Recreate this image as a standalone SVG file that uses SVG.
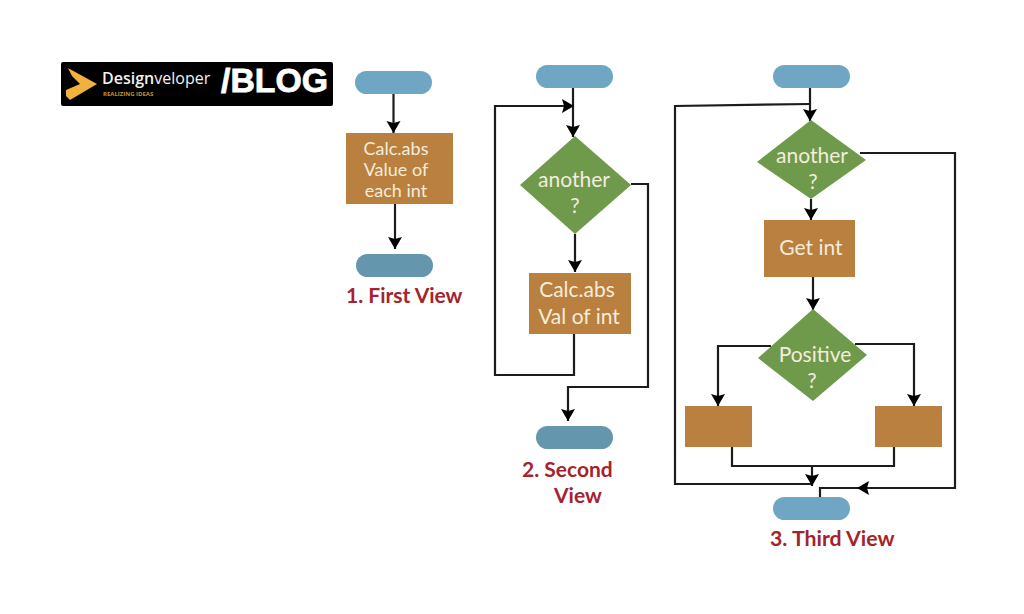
<svg xmlns="http://www.w3.org/2000/svg" width="1024" height="614" viewBox="0 0 1024 614">
<style>
.term{fill:#6fa6c4}
.termd{fill:#6497ae}
.box{fill:#b9803f}
.dec{fill:#6f9a4c}
.t{font-family:Lato,"Open Sans",sans-serif;fill:#f4ecdc;text-anchor:middle}
.lab{font-family:Lato,"Open Sans",sans-serif;font-weight:700;fill:#a4232c}
.c{fill:none;stroke:#1c1c1c;stroke-width:2.200}
.a{marker-end:url(#ah)}
</style>
<defs>
<marker id="ah" markerUnits="userSpaceOnUse" markerWidth="14" markerHeight="16" refX="12" refY="7.500" orient="auto">
<path d="M0,0.500 L12,7.500 L0,14.500 L2,7.500 Z" fill="#000"/>
</marker>
</defs>
<rect width="1024" height="614" fill="#fff"/>
<g id="logo">
<rect x="61" y="62" width="272" height="44" rx="2" fill="#000"/>
<path d="M68,68 L97,84 L70,100 L66,96 L66,90 L80,84 L72,76 Z" fill="#f0b23c"/>
<text x="102" y="84" font-family="'Open Sans',sans-serif" font-size="16" font-weight="600" fill="#f2f2f2">Design<tspan font-weight="400">veloper</tspan></text>
<text x="103" y="96" font-family="'Open Sans',sans-serif" font-size="6" font-weight="700" fill="#c8932e">REALIZING IDEAS</text>
<text x="221" y="92" font-family="'Liberation Sans',sans-serif" font-size="33" font-weight="700" fill="#fff" stroke="#fff" stroke-width="0.800" textLength="107" lengthAdjust="spacingAndGlyphs">/BLOG</text>
</g>
<g id="connectors">
<path class="c a" d="M393.500,94V133"/>
<path class="c a" d="M395,204V249"/>
<path class="c a" d="M573,88V137"/>
<path class="c a" d="M574,334V375H495V106H574"/>
<path class="c a" d="M575,234V272"/>
<path class="c a" d="M631,184H648V387H568V421"/>
<path class="c a" d="M810,88V121"/>
<path class="c" d="M810,104L675,106V484H812"/>
<path class="c a" d="M811,199V220"/>
<path class="c a" d="M813,277V310"/>
<path class="c" d="M860,153H955V488H820V497"/>
<path class="c a" d="M955,488H857"/>
<path class="c a" d="M771,346H718V406"/>
<path class="c a" d="M855,344H914V406"/>
<path class="c" d="M732,447V466H894V447"/>
<path class="c a" d="M812,466V486"/>
</g>
<g id="v1-start"><rect class="term" x="355" y="71" width="77" height="23" rx="11.500"/></g>
<g id="v1-calc"><rect class="box" x="346" y="133" width="107" height="71"/>
<text class="t" font-size="18" x="396" y="155">Calc.abs</text>
<text class="t" font-size="18" x="396" y="176">Value of</text>
<text class="t" font-size="18" x="396" y="197">each int</text></g>
<g id="v1-end"><rect class="termd" x="356" y="254" width="77" height="23" rx="11.500"/></g>
<text id="label-1" class="lab" font-size="21" x="346" y="303">1. First View</text>
<g id="v2-start"><rect class="term" x="536" y="65" width="77" height="23" rx="11.500"/></g>
<g id="v2-another"><polygon class="dec" points="520,185 575,136 631,185 575,234"/>
<text class="t" font-size="21" x="574" y="187">another</text>
<text class="t" font-size="21" x="575" y="213">?</text></g>
<g id="v2-calc"><rect class="box" x="529" y="273" width="102" height="61"/>
<text class="t" font-size="21" x="577" y="297">Calc.abs</text>
<text class="t" font-size="21" x="579" y="324">Val of int</text></g>
<g id="v2-end"><rect class="termd" x="536" y="426" width="77" height="23" rx="11.500"/></g>
<text id="label-2a" class="lab" font-size="21" x="522" y="477">2. Second</text>
<text id="label-2b" class="lab" font-size="21" x="554" y="503">View</text>
<g id="v3-start"><rect class="term" x="773" y="65" width="77" height="23" rx="11.500"/></g>
<g id="v3-another"><polygon class="dec" points="757,162 811,120 866,160 811,199"/>
<text class="t" font-size="21" x="812" y="163">another</text>
<text class="t" font-size="21" x="813" y="189">?</text></g>
<g id="v3-get"><rect class="box" x="764" y="220" width="91" height="57"/>
<text class="t" font-size="21" x="811" y="255">Get int</text></g>
<g id="v3-positive"><polygon class="dec" points="758,358 813,309 867,355 813,401"/>
<text class="t" font-size="21" x="815" y="362">Positive</text>
<text class="t" font-size="21" x="812" y="388">?</text></g>
<g id="v3-left"><rect class="box" x="685" y="406" width="67" height="41"/></g>
<g id="v3-right"><rect class="box" x="875" y="406" width="67" height="41"/></g>
<g id="v3-end"><rect class="term" x="773" y="497" width="77" height="23" rx="11.500"/></g>
<text id="label-3" class="lab" font-size="21.300" x="770" y="546">3. Third View</text>
</svg>
